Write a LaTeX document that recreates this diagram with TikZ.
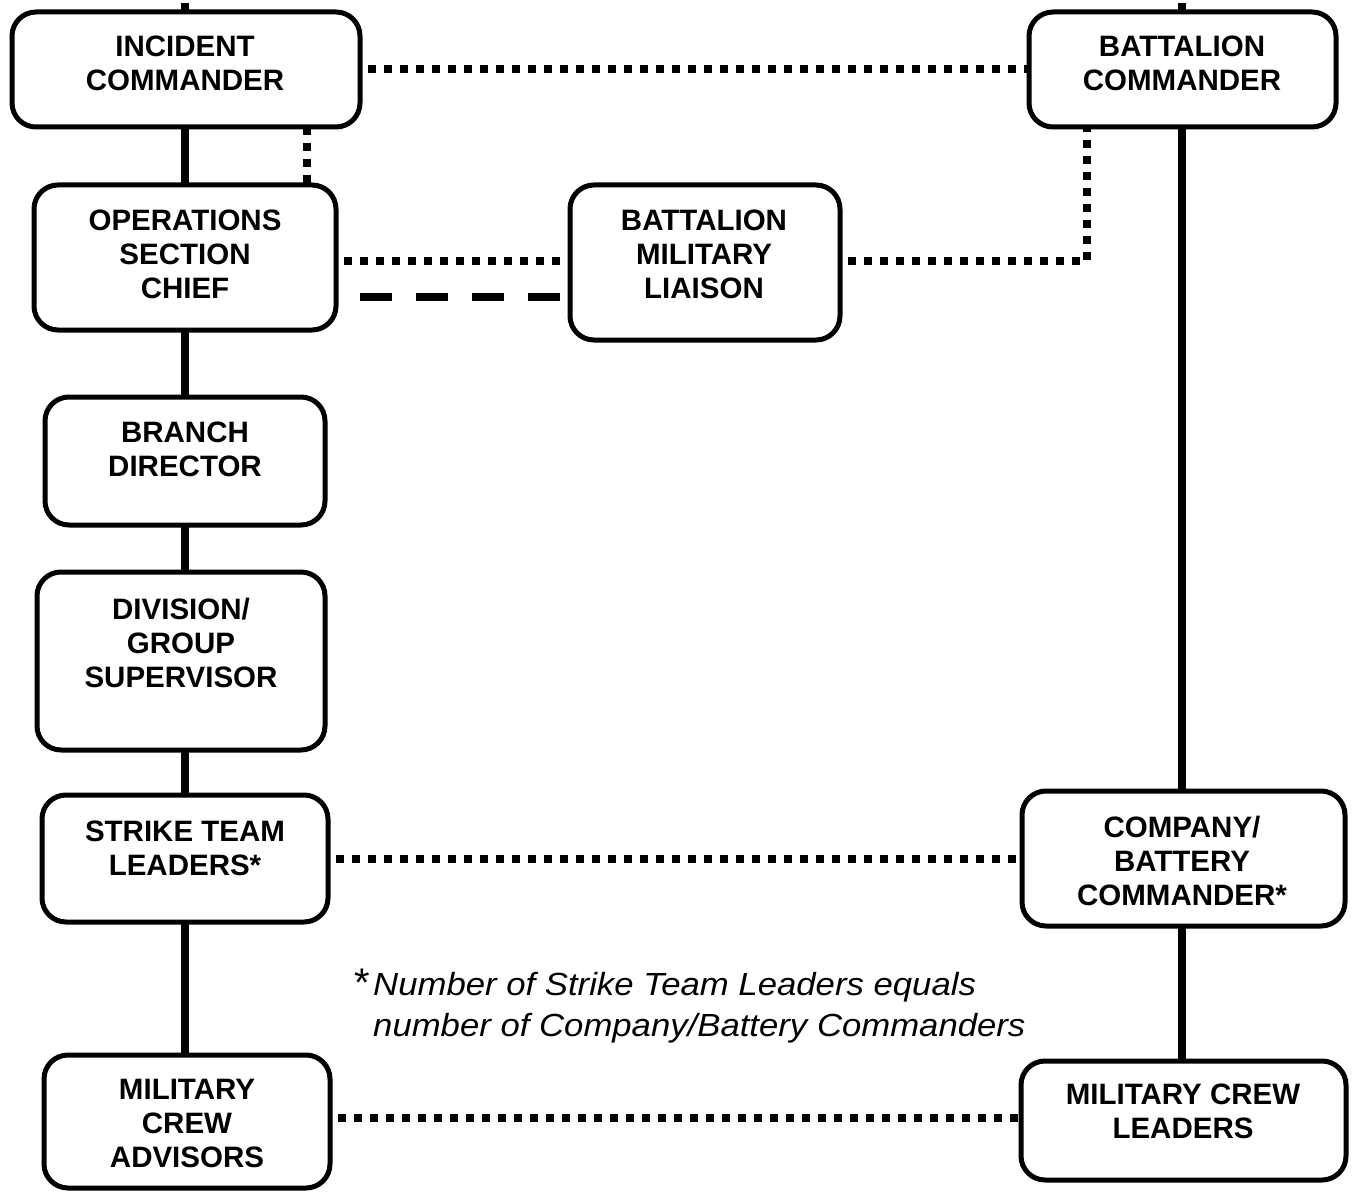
\documentclass[tikz,border=0pt]{standalone}
\usepackage{fontspec}
\setmainfont{Liberation Sans}
\newfontfamily\notefont[FakeStretch=1.085]{Liberation Sans}
\begin{document}
\begin{tikzpicture}[x=1pt,y=-1pt,
  box/.style={draw, line width=5pt, rounded corners=24pt, inner sep=0pt, outer sep=0pt, fill=white},
  lbl/.style={font=\fontsize{29.5}{34}\selectfont\bfseries, align=center, inner sep=0pt},
  solidlink/.style={line width=8pt},
  dotlink/.style={line width=8pt, dash pattern=on 8pt off 8pt, dash phase=8pt},
  dashlink/.style={line width=8pt, dash pattern=on 32pt off 24pt, dash phase=32pt},
  note/.style={font=\fontsize{32}{41}\selectfont\notefont\itshape, align=left, inner sep=0pt},
]
\useasboundingbox (0,0) rectangle (1354,1193);

% ---- boxes ----
\node[box, minimum width=348pt, minimum height=115pt] (ic)  at (186,69.5) {};
\node[box, minimum width=307pt, minimum height=115pt] (bc)  at (1182.5,69.5) {};
\node[box, minimum width=302pt, minimum height=145pt] (ops) at (185,257.5) {};
\node[box, minimum width=270pt, minimum height=155pt] (bml) at (705,262.5) {};
\node[box, minimum width=280pt, minimum height=128pt] (br)  at (185,461) {};
\node[box, minimum width=288pt, minimum height=178pt] (div) at (181,661) {};
\node[box, minimum width=286pt, minimum height=127pt] (stl) at (185,858.5) {};
\node[box, minimum width=323pt, minimum height=135pt] (cbc) at (1183.5,858.5) {};
\node[box, minimum width=286pt, minimum height=133pt] (mca) at (187,1121.5) {};
\node[box, minimum width=325pt, minimum height=119pt] (mcl) at (1183.5,1120.5) {};

% ---- labels ----
\node[lbl] (ic-t)  at (185,63)    {INCIDENT\\COMMANDER};
\node[lbl] (bc-t)  at (1182,63)   {BATTALION\\COMMANDER};
\node[lbl] (ops-t) at (185,254)   {OPERATIONS\\SECTION\\CHIEF};
\node[lbl] (bml-t) at (704,254)   {BATTALION\\MILITARY\\LIAISON};
\node[lbl] (br-t)  at (185,449)   {BRANCH\\DIRECTOR};
\node[lbl] (div-t) at (181,643)   {DIVISION/\\GROUP\\SUPERVISOR};
\node[lbl] (stl-t) at (185,848)   {STRIKE TEAM\\LEADERS*};
\node[lbl] (cbc-t) at (1182,861)  {COMPANY/\\BATTERY\\COMMANDER*};
\node[lbl] (mca-t) at (187,1123)  {MILITARY\\CREW\\ADVISORS};
\node[lbl] (mcl-t) at (1183,1111) {MILITARY CREW\\LEADERS};

% ---- helper coordinates ----
\coordinate (ictop) at (185,3);
\coordinate (bctop) at (1182,3);
\coordinate (icops) at (307,0);
\coordinate (bcbml) at (1087,0);
\coordinate (lane1) at (0,261);
\coordinate (lane2) at (0,297);
\coordinate (lane3) at (0,1118);

% ---- solid chains of command ----
\draw[line width=8pt] (ictop) -- (ictop |- ic.north);
\draw[line width=8pt] (bctop) -- (bctop |- bc.north);
\draw[solidlink] (ictop |- ic.south)  -- (ictop |- ops.north);
\draw[solidlink] (ictop |- ops.south) -- (ictop |- br.north);
\draw[solidlink] (ictop |- br.south)  -- (ictop |- div.north);
\draw[solidlink] (ictop |- div.south) -- (ictop |- stl.north);
\draw[solidlink] (ictop |- stl.south) -- (ictop |- mca.north);
\draw[solidlink] (bctop |- bc.south)  -- (bctop |- cbc.north);
\draw[solidlink] (bctop |- cbc.south) -- (bctop |- mcl.north);

% ---- coordination links ----
\draw[dotlink] (ic.east) -- (bc.west);
\draw[dotlink, dash phase=0pt] (icops |- ic.south) -- (icops |- ops.north);
\draw[dotlink] (ops.east |- lane1) -- (bml.west |- lane1);
\draw[dashlink] (ops.east |- lane2) -- (bml.west |- lane2);
\draw[dotlink] (bml.east |- lane1) -| (bcbml |- bc.south);
\draw[dotlink] (stl.east) -- (cbc.west);
\draw[dotlink] (mca.east |- lane3) -- (mcl.west |- lane3);

% ---- footnote ----
\node[font=\fontsize{40}{40}\selectfont, inner sep=0pt] (star) at (362,983) {*};
\node[note, anchor=west] (note) at (373,1008)
  {Number of Strike Team Leaders equals\\number of Company/Battery Commanders};
\end{tikzpicture}
\end{document}
